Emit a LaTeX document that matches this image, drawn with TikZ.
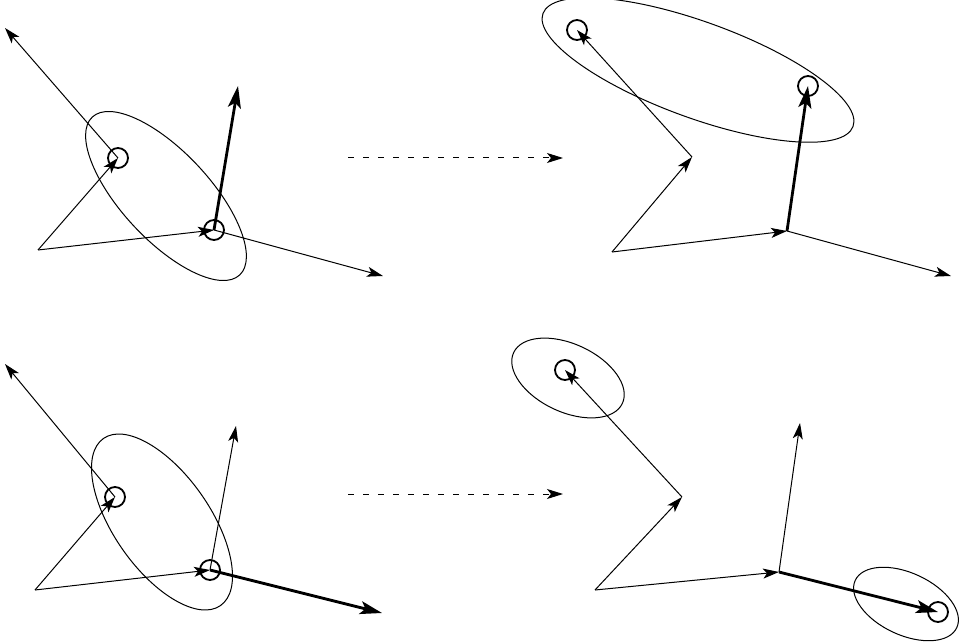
\documentclass[tikz,border=0pt]{standalone}
\usetikzlibrary{arrows.meta}
\begin{document}
\begin{tikzpicture}[x=1pt,y=-1pt,
  vec/.style={-{Stealth[length=16pt,width=10pt,inset=4pt]},line width=1pt},
  bigvec/.style={-{Stealth[length=22pt,width=13pt,inset=5pt]},line width=2.8pt},
  dot/.style={circle,draw,line width=1.8pt,minimum size=20pt,inner sep=0pt},
  ell/.style={line width=1pt}]
\useasboundingbox (0,0) rectangle (969,644);
% ---- top left
\coordinate (a1) at (38,250);
\node[dot] (c1) at (118,158) {};
\node[dot] (c2) at (214,230) {};
\coordinate (e1) at (5,28);
\coordinate (e2) at (238,86);
\coordinate (e3) at (383,276);
\draw[vec] (a1) -- (c1.center);
\draw[vec] (a1) -- (c2.center);
\draw[vec] (c1.center) -- (e1);
\draw[bigvec] (c2.center) -- (e2);
\draw[vec] (c2.center) -- (e3);
\draw[ell,rotate around={-47:(166,196)}] (166,196) ellipse (108pt and 44pt);
% dashed arrows
\coordinate (d1) at (348,158); \coordinate (d2) at (563,158);
\draw[vec,dash pattern=on 6pt off 9pt] (d1) -- (d2);
\coordinate (d3) at (348,494); \coordinate (d4) at (563,494);
\draw[vec,dash pattern=on 6pt off 9pt] (d3) -- (d4);
% ---- top right
\coordinate (a2) at (612,252);
\coordinate (m2) at (692,157);
\coordinate (b2) at (787,231);
\node[dot] (c3) at (577,30) {};
\node[dot] (c4) at (808,86) {};
\coordinate (e4) at (951,276);
\draw[vec] (a2) -- (b2);
\draw[vec] (a2) -- (m2);
\draw[vec] (m2) -- (c3.center);
\draw[bigvec] (b2) -- (c4.center);
\draw[vec] (b2) -- (e4);
\draw[ell,rotate around={-20:(698,70)}] (698,70) ellipse (165pt and 48pt);
% ---- bottom left
\coordinate (a3) at (35,590);
\node[dot] (c5) at (115,497) {};
\node[dot] (c6) at (210,570) {};
\coordinate (e5) at (5,364);
\coordinate (e6) at (236,426);
\coordinate (e7) at (382,613);
\draw[vec] (a3) -- (c5.center);
\draw[vec] (a3) -- (c6.center);
\draw[vec] (c5.center) -- (e5);
\draw[vec] (c6.center) -- (e6);
\draw[bigvec] (c6.center) -- (e7);
\draw[ell,rotate around={-55:(162,522)}] (162,522) ellipse (102pt and 48pt);
% ---- bottom right
\coordinate (a4) at (595,590);
\coordinate (m4) at (682,497);
\coordinate (b4) at (779,572);
\node[dot] (c7) at (565,370) {};
\node[dot] (c8) at (938,612) {};
\coordinate (e8) at (800,423);
\draw[vec] (a4) -- (b4);
\draw[vec] (a4) -- (m4);
\draw[vec] (m4) -- (c7.center);
\draw[vec] (b4) -- (e8);
\draw[bigvec] (b4) -- (c8.center);
\draw[ell,rotate around={-25:(568,378)}] (568,378) ellipse (60pt and 34pt);
\draw[ell,rotate around={-25:(906,604)}] (906,604) ellipse (56pt and 31pt);
\end{tikzpicture}
\end{document}
